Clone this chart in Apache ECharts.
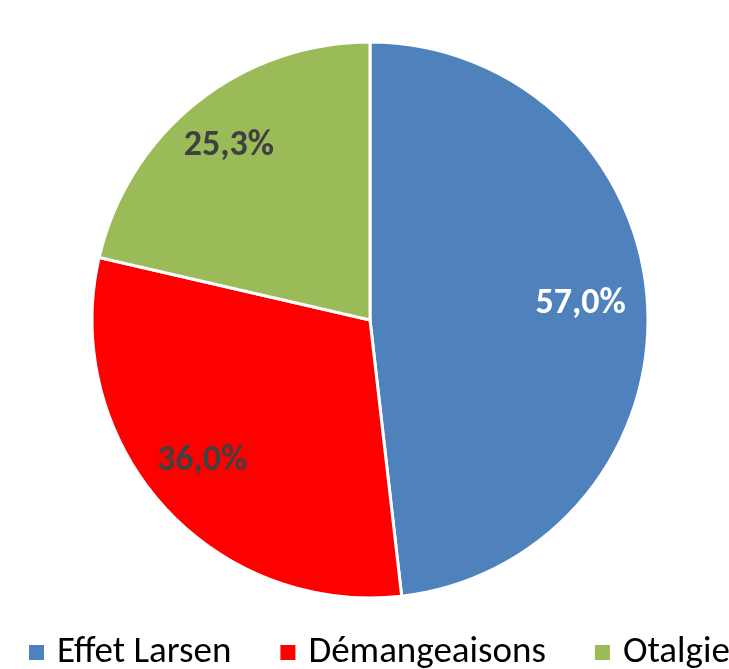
<!DOCTYPE html>
<html><head><meta charset="utf-8">
<script src="https://cdn.jsdelivr.net/npm/echarts@6/dist/echarts.min.js"></script>
<style>html,body{margin:0;padding:0;background:#fff}#c{width:729px;height:669px}</style>
</head><body><div id="c"></div>
<script>
const categories = ["Effet Larsen", "Démangeaisons", "Otalgie"];
const values = [57.0, 36.0, 25.3];
const colors = ["#4F81BD", "#FF0000", "#9BBB59"];
const labelColors = ["#FFFFFF", "#404040", "#404040"];

const chart = echarts.init(document.getElementById('c'), null, {renderer: 'canvas'});
const fmt = p => p.value.toFixed(1).replace('.', ',') + '%';
const font = "Carlito, 'Liberation Sans', Arial, sans-serif";

chart.setOption({
  animation: false,
  color: colors,
  legend: {
    top: 634, left: 27, padding: 0, width: 1000, orient: 'horizontal',
    itemWidth: 17, itemHeight: 17, itemGap: 47,
    icon: 'rect',
    textStyle: {fontFamily: font, fontSize: 37, color: '#000', padding: [2, 0, 0, 7]},
    data: categories
  },
  series: [
    {
      type: 'pie', center: [370, 320], radius: [0, 278], startAngle: 90, clockwise: true,
      itemStyle: {borderColor: '#fff', borderWidth: 3},
      label: {show: false}, labelLine: {show: false}, emphasis: {disabled: true},
      data: categories.map((n, i) => ({name: n, value: values[i]}))
    },
    {
      type: 'pie', center: [364, 316], radius: [150, 278], startAngle: 90, clockwise: true,
      silent: true, legendHoverLink: false,
      itemStyle: {color: 'transparent', borderWidth: 0},
      label: {show: true, position: 'inside', formatter: fmt, fontFamily: font, fontSize: 36, fontWeight: 'bold'},
      labelLine: {show: false}, emphasis: {disabled: true},
      data: categories.map((n, i) => ({name: n + ' ', value: values[i], label: {color: labelColors[i]}}))
    }
  ]
});
</script></body></html>
